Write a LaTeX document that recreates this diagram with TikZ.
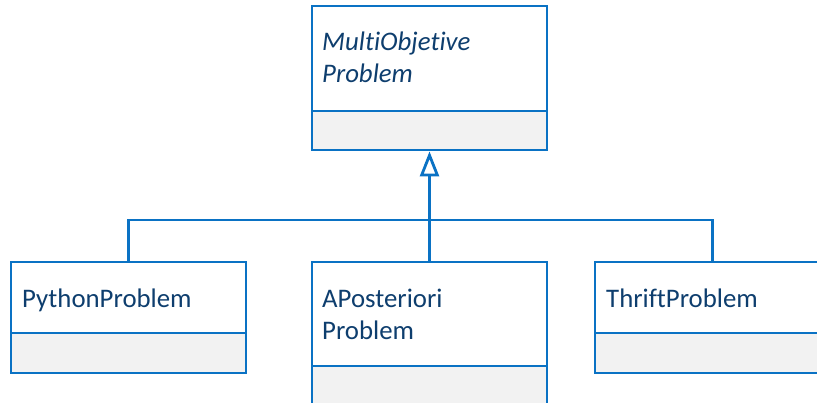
\documentclass[tikz,border=0pt]{standalone}
\usepackage{fontspec}
\setmainfont[RawFeature=-liga]{Carlito}
\usetikzlibrary{arrows.meta}
\definecolor{umlline}{RGB}{10,114,196}
\definecolor{umltext}{RGB}{14,62,110}
\definecolor{umlcomp}{RGB}{242,242,242}
\tikzset{
  classbox/.style={draw=umlline, line width=2.8pt, fill=white, minimum width=235pt,
    inner sep=0pt, anchor=center,
    path picture={
      \fill[umlcomp] (path picture bounding box.south west) rectangle
        ([yshift=#1]path picture bounding box.south east);
      \draw[umlline, line width=2.8pt] ([yshift=#1]path picture bounding box.south west) --
        ([yshift=#1]path picture bounding box.south east);
    }},
  classname/.style={anchor=base west, inner sep=0pt, text=umltext,
    font=\fontsize{26.8}{32}\selectfont, align=left},
  link/.style={draw=umlline, line width=2.8pt},
}
\begin{document}
\begin{tikzpicture}[x=1pt, y=1pt]
\useasboundingbox (0,0) rectangle (817,402);

% class boxes
\node[classbox=39pt, minimum height=144pt] (mop) at (429.5,324) {};
\node[classbox=40pt, minimum height=111pt] (py)  at (128.5,84.5) {};
\node[classbox=40pt, minimum height=144pt] (apo) at (429.5,68) {};
\node[classbox=40pt, minimum height=111pt] (th)  at (712.5,84.5) {};

% class names (base anchor sits on the last line)
\node[classname, font=\fontsize{26.8}{32}\selectfont\itshape] (mopname) at (322,319) {MultiObjetive\\Problem};
\node[classname] (pyname)  at (22,95) {PythonProblem};
\node[classname] (aponame) at (322,63) {APosteriori\\Problem};
\node[classname] (thname)  at (606,95) {ThriftProblem};

% generalization
\coordinate (bar) at (429.5,182);
\draw[link] (py.north) |- (bar) -| (th.north);
\draw[link, -{Triangle[open, length=25pt, width=19pt, line width=2.8pt]}] (apo.north) -- (mop.south);
\end{tikzpicture}
\end{document}
